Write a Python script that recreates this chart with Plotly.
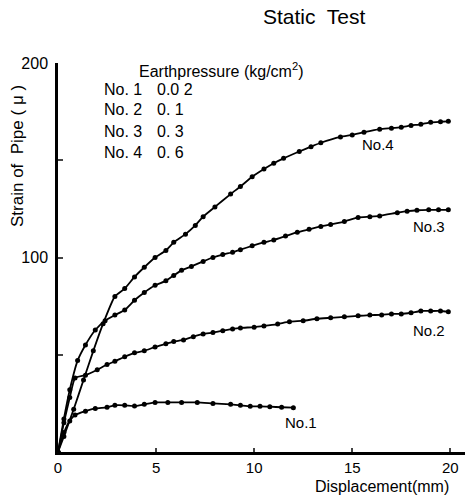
import plotly.graph_objects as go

# ---- data ----
no1_x = [0, 0.3, 0.6, 0.87, 1.4, 1.9, 2.5, 2.9, 3.4, 3.9, 4.4, 4.95, 5.6, 6.3, 7.1, 7.9, 8.8, 9.3, 9.8, 10.3, 10.8, 11.4, 12.0]
no1_y = [0, 10, 16, 19, 21, 22.4, 23, 24, 24, 23.6, 24.5, 25.5, 25.5, 25.5, 25.5, 25, 24.5, 24, 23.5, 23.5, 23.3, 23, 22.8]

no2_x = [0, 0.3, 0.6, 0.87, 1.4, 2.0, 2.5, 2.9, 3.4, 3.9, 4.4, 4.95, 5.5, 5.9, 6.4, 6.9, 7.4, 7.9, 8.4, 8.9, 9.3, 10.0,
         10.5, 11.2, 11.8, 12.5, 13.2, 13.9, 14.6, 15.3, 15.9, 16.5, 17.0, 17.5, 18.0, 18.5, 19.0, 19.5, 19.9]
no2_y = [0, 15, 28, 38, 39.5, 42.3, 45, 46.6, 49, 51, 52, 54, 55.6, 56.8, 57.6, 59.3, 60.7, 61.4, 62.4, 63.3, 63.8, 64.2,
         64.8, 65.8, 67, 67.5, 68.5, 69, 69.5, 70, 70.4, 70.5, 71, 71, 71.6, 72.5, 72.5, 72.5, 72.1]

no3_x = [0, 0.3, 0.6, 1.0, 1.4, 1.9, 2.4, 2.9, 3.4, 3.9, 4.4, 4.95, 5.5, 5.9, 6.3, 6.8, 7.4, 7.9, 8.4, 8.9, 9.3, 9.9,
         10.5, 11.0, 11.6, 12.2, 12.8, 13.4, 13.9, 14.6, 15.3, 15.9, 16.4, 17.3, 17.8, 18.3, 18.9, 19.4, 19.9]
no3_y = [0, 17, 32, 47, 55, 62.7, 67.5, 70.4, 73, 78, 82, 85.7, 88, 90.8, 93.4, 95.4, 98, 100, 101.5, 102.7, 104, 106,
         107.8, 109, 111, 113, 114.5, 116, 117, 118.5, 120.6, 121, 121.4, 123, 123.8, 124.3, 124.5, 124.5, 124.5]

no4_x = [0, 0.3, 0.8, 1.3, 1.8, 2.3, 2.9, 3.4, 3.9, 4.4, 4.95, 5.5, 5.9, 6.5, 7.0, 7.4, 8.0, 8.8, 9.3, 9.9, 10.5, 11.0,
         11.5, 12.3, 12.9, 13.4, 14.4, 15.0, 15.6, 16.4, 17.0, 17.5, 18.0, 18.5, 19.0, 19.5, 19.9]
no4_y = [0, 8, 22, 37, 52, 66, 80, 84, 90, 95, 100, 103.6, 107.8, 112, 116.5, 121, 126, 132.6, 136.5, 141.5, 145.5, 148.5,
         151, 154.5, 157, 159, 162, 163, 164.4, 166, 166.5, 167, 167.9, 168.5, 169.5, 169.8, 170]

series_names = ["No.1", "No.2", "No.3", "No.4"]
label_x = [12.4, 18.9, 18.9, 16.3]
label_y = [15, 62.7, 115.7, 158]

legend_ids = ["No. 1", "No. 2", "No. 3", "No. 4"]
legend_vals = ["0.0 2", "0. 1", "0. 3", "0. 6"]

x_ticks = [0, 5, 10, 15, 20]
y_ticks = [0, 50, 100, 150, 200]
y_ticktext = ["", "", "100", "", "200"]

FONT = "Liberation Sans"
fig = go.Figure()

for xs, ys in [(no1_x, no1_y), (no2_x, no2_y), (no3_x, no3_y), (no4_x, no4_y)]:
    fig.add_trace(go.Scatter(x=xs, y=ys, mode="lines+markers",
                             line=dict(color="black", width=1.8, shape="spline", smoothing=0.5),
                             marker=dict(color="black", size=5),
                             showlegend=False, cliponaxis=False))

for name, lx, ly in zip(series_names, label_x, label_y):
    fig.add_annotation(x=lx, y=ly, text=name, showarrow=False,
                       font=dict(family=FONT, size=15, color="black"))

# legend-like text block
fig.add_annotation(xref="paper", yref="paper", x=(137 - 58) / 407, y=(452 - 70) / 389,
                   xanchor="left", yanchor="middle", text="Earthpressure (kg/cm<sup>2</sup>)",
                   showarrow=False, font=dict(family=FONT, size=16, color="black"))
for i, (lid, val) in enumerate(zip(legend_ids, legend_vals)):
    ypx = 89 + i * 21
    fig.add_annotation(xref="paper", yref="paper", x=(102 - 58) / 407, y=(452 - ypx) / 389,
                       xanchor="left", yanchor="middle", text=lid, showarrow=False,
                       font=dict(family=FONT, size=16, color="black"))
    fig.add_annotation(xref="paper", yref="paper", x=(155 - 58) / 407, y=(452 - ypx) / 389,
                       xanchor="left", yanchor="middle", text=val, showarrow=False,
                       font=dict(family=FONT, size=16, color="black"))

# title
fig.add_annotation(xref="paper", yref="paper", x=(314 - 58) / 407, y=(452 - 16) / 389,
                   xanchor="center", yanchor="middle", text="Static  Test", showarrow=False,
                   font=dict(family=FONT, size=21, color="black"))
# axis titles
fig.add_annotation(xref="paper", yref="paper", x=(451 - 58) / 407, y=(452 - 486) / 389,
                   xanchor="right", yanchor="middle", text="Displacement(mm)", showarrow=False,
                   font=dict(family=FONT, size=16, color="black"))
fig.add_annotation(xref="paper", yref="paper", x=(17 - 58) / 407, y=(452 - 156) / 389,
                   xanchor="center", yanchor="middle", text="Strain of  Pipe ( μ )", textangle=-90,
                   showarrow=False, font=dict(family=FONT, size=17, color="black"))

fig.update_layout(
    width=468, height=495,
    margin=dict(l=58, r=3, t=63, b=43),
    paper_bgcolor="white", plot_bgcolor="white",
    font=dict(family=FONT, size=15, color="black"),
    xaxis=dict(range=[0, 20.75], tickvals=x_ticks, ticks="inside", ticklen=4, tickwidth=1.5,
               showline=True, linecolor="black", linewidth=2.5, showgrid=False, zeroline=False,
               ticklabelstandoff=0, tickfont=dict(family=FONT, size=15)),
    yaxis=dict(range=[0, 200], tickvals=y_ticks, ticktext=y_ticktext, ticks="inside", ticklen=5,
               tickwidth=1.5, showline=True, linecolor="black", linewidth=2.5, showgrid=False,
               zeroline=False, ticklabelstandoff=4, tickfont=dict(family=FONT, size=16)),
)

fig.write_html("out.html")
